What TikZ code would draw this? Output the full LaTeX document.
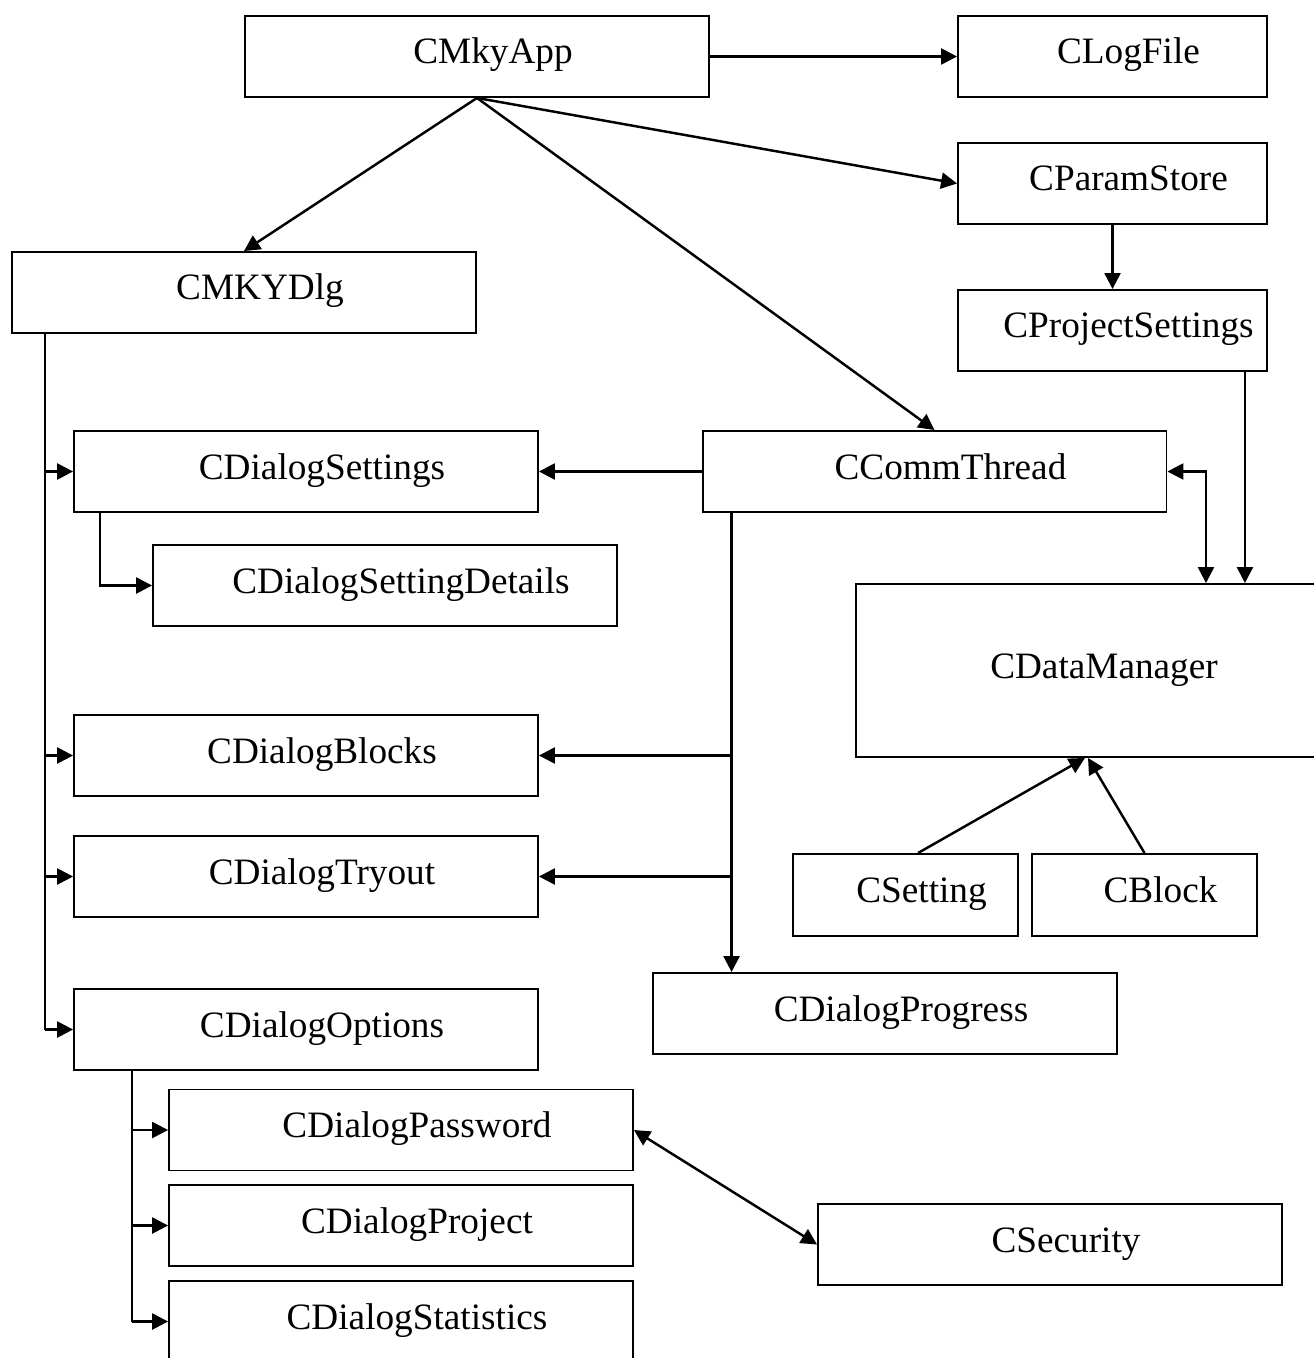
\documentclass[tikz,border=0pt]{standalone}
\usepackage{fontspec}
\setmainfont{Liberation Serif}
\usepackage{tikz}
\usetikzlibrary{
	arrows.meta,
	positioning,
	calc
}

\begin{document}
\begin{tikzpicture}[
				x=0.02cm, y=-0.02cm,
				box/.style={
					rectangle, draw, line width=1.1pt,
					minimum width=9.28cm, minimum height=1.62cm,
					inner sep=0pt, align=center,
					text height=0.52cm, text depth=0.22cm,
					font=\fontsize{21.2pt}{25pt}\selectfont,
					execute at begin node=\hspace*{0.64cm}
				},
				smallbox/.style={
					box, minimum width=6.18cm
				},
				tinybox/.style={
					box, minimum width=4.5cm, minimum height=1.64cm
				},
				bigbox/.style={
					box, minimum height=3.46cm
				},
				arrow/.style={-{Triangle[length=0.32cm,width=0.32cm]}, line width=1.4pt},
				dblarrow/.style={{Triangle[length=0.32cm,width=0.32cm]}-{Triangle[length=0.32cm,width=0.32cm]}, line width=1.4pt},
				line/.style={line width=1.4pt}
				]
				\clip (0,0) rectangle (1314,1358);
				
				%top
				\node[box] (app) at (477,56.5) {CMkyApp};
				\node[smallbox] (logfile) at (1112.5,56.5) {CLogFile};
				\draw[arrow] (app) -- (logfile);
				
				\node[smallbox] (paramstore) at (1112.5,183.5) {CParamStore};
				\node[smallbox] (projset) at (1112.5,330.5) {CProjectSettings};
				\draw[arrow] (app.south) -- (paramstore.west);
				\draw[arrow] (paramstore) -- (projset);
				
				\node[box] (mkydlg) at (244,292.5) {CMKYDlg};
				\draw[arrow] (app.south) -- (mkydlg.north);
				
				%thread and data
				\node[box] (commthread) at (934.5,471.5) {CCommThread};
				\draw[arrow] (app.south) -- (commthread.north);
				
				\node[bigbox] (datamgr) at (1088,670.5) {CDataManager};
				\draw[dblarrow] (commthread.east) -| ([xshift=2.36cm]datamgr.north);
				\draw[arrow] ([xshift=-0.46cm]projset.south east) coordinate (ps) -- (ps |- datamgr.north);
				
				\node[tinybox] (setting) at (905.5,895) {CSetting};
				\node[tinybox] (block) at (1144.5,895) {CBlock};
				\draw[arrow] ([xshift=0.25cm]setting.north) -- ([xshift=-0.06cm]datamgr.south);
				\draw[arrow] (block.north) -- (datamgr.south);
				
				%dialogs
				\node[box] (dlgsettings) at (306,471.5) {CDialogSettings};
				\node[box] (setdetails) at (385,585.5) {CDialogSettingDetails};
				\node[box] (dlgblocks) at (306,755.5) {CDialogBlocks};
				\node[box] (dlgtryout) at (306,876.5) {CDialogTryout};
				\node[box] (dlgoptions) at (306,1029.5) {CDialogOptions};
				\node[box] (dlgprogress) at (885,1013.5) {CDialogProgress};
				
				\draw[arrow] (commthread.west) -- (dlgsettings.east);
				\draw[arrow] ([xshift=0.54cm]dlgsettings.south west) |- (setdetails.west);
				
				\draw[line] ([xshift=0.68cm]mkydlg.south west) coordinate (mt) -- (mt |- dlgoptions.west);
				\foreach \n in {dlgsettings, dlgblocks, dlgtryout, dlgoptions}
					\draw[arrow] (mt |- \n.west) -- (\n.west);
				
				\draw[arrow] ([xshift=0.6cm]commthread.south west) coordinate (ct) -- (ct |- dlgprogress.north);
				\draw[arrow] (ct |- dlgblocks.east) -- (dlgblocks.east);
				\draw[arrow] (ct |- dlgtryout.east) -- (dlgtryout.east);
				
				%options
				\node[box] (dlgpassword) at (401,1130) {CDialogPassword};
				\node[box] (dlgproject) at (401,1225.5) {CDialogProject};
				\node[box] (dlgstats) at (401,1321.5) {CDialogStatistics};
				\node[box] (security) at (1050,1244.5) {CSecurity};
				
				\draw[line] ([xshift=1.18cm]dlgoptions.south west) coordinate (ot) -- (ot |- dlgstats.west);
				\foreach \n in {dlgpassword, dlgproject, dlgstats}
					\draw[arrow] (ot |- \n.west) -- (\n.west);
				\draw[dblarrow] (dlgpassword.east) -- (security.west);
			\end{tikzpicture}
\end{document}
